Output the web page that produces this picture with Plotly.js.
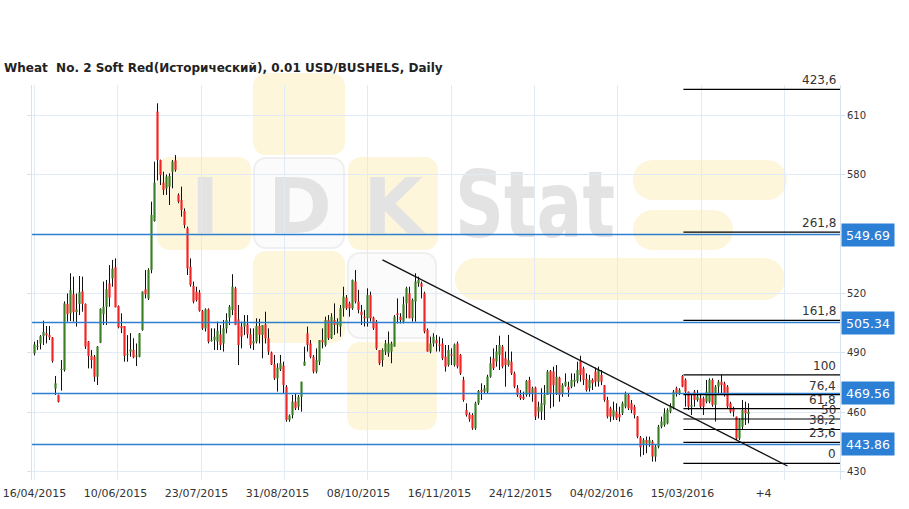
<!DOCTYPE html>
<html><head><meta charset="utf-8">
<script src="https://cdn.plot.ly/plotly-3.0.1.min.js"></script>
<style>html,body{margin:0;padding:0;background:#fff}#chart{width:909px;height:509px}</style>
</head><body><div id="chart"></div>
<script>
// ---- data ----
const openP = [489.8,493,494.8,498.5,499.9,499,497.9,472,468.8,481.4,
481.4,514.7,510,519.6,510.6,514.7,521.1,514.7,495.7,488.6,
488.1,478,495.2,509.6,513.3,525.1,527.6,533.2,513.7,503.6,
503.6,489,490.7,491.5,488.1,488.1,501.6,522.1,517.5,531.8,
556.6,611.7,587.3,575.9,573,573.9,581.4,587.1,569.7,567.1,
561.6,552.9,533.4,523.8,520.9,520.4,511.2,502.4,512,496,
496.6,495.7,499.4,494.8,502.4,507.8,511.7,522.6,506.9,503.3,
503.3,504.4,499.4,494.8,495.7,503.6,499.1,504.4,497.4,490.2,
484.3,477.2,481.7,483.6,473,456.2,458.7,465.5,462.9,467.9,
483.6,499.9,494.8,488.1,480.6,485.6,496.5,494,506.6,497.4,
506.6,504.1,503.3,512.5,517.9,515,512.5,526,515.9,510.8,
508.3,507.5,519.2,507.8,505.8,491.5,486.4,490.7,489.8,490.7,
493.2,510,508.3,505.8,515,520.1,507.5,515.9,525.1,525.1,
520.1,501.6,490.7,494.8,496.5,494.3,494.8,488.1,483.9,489.3,
483.9,494.8,489,476.4,461.2,459,458.7,452,464.6,471.3,
470.5,470.5,478,487.3,485.6,489,493.2,487.3,483.9,485.6,
479.7,472.2,468.8,467.9,468.8,476.4,469.6,472.5,460.4,460.4,
463.8,468.8,480.9,480.6,469.6,477.5,469.6,473.5,473,473,
475.5,475.9,485.9,482.2,476.9,472.2,476.4,480.6,475.5,478.9,
473.8,466.3,462.1,457.9,460.4,459.2,459.6,462.9,468.8,464.6,
462.9,457.9,447.4,443.6,446.1,444.4,445.3,437.7,442.7,452.8,
453.7,454.5,460.4,462.1,472.2,469.6,478.4,476.4,470.5,462.9,
470.5,466.3,467.1,467.1,465.4,465.4,476.4,463.8,473,475.5,
474.7,473,464.6,462.1,457.9,446.9,452.8,461.2,459.2];
const highP = [495.7,496.5,499,506.3,503.6,503.6,498,478.4,469,486.4,
516,520,530.2,528.5,520,528.8,528.5,515,496,491.5,
489,493.5,512.5,526,526.8,534.3,536.9,537.7,514,510,
503.6,499,500,497.4,494.8,500,521,531.8,532.7,566.3,
586.5,615.9,587.5,581.4,580,580.6,587.3,589.8,570.5,573.9,
562.9,553.7,537.7,526,523.4,521.8,511.7,512.5,512.5,502.4,
502.4,505.8,504.1,506.6,510,514.2,529.7,523.4,514.2,505.8,
509.1,509.1,502.4,502.4,507.5,507.2,504.1,510.8,502.4,490.7,
489,484.8,489,485.6,473.8,459,468.8,469.6,468.8,475.5,
493.2,503.3,496.5,489,492.3,496.5,502.4,508.3,509.1,510,
515,507.5,514.2,523.4,519.2,515.9,527,531.8,521.8,514.2,
511.7,522.6,520.9,508.3,506.6,491.5,492.3,496.5,500.8,495.7,
509.1,517.5,510,518.4,523.4,523.4,517.5,530.2,528.5,526,
520.9,502.4,498.2,499.9,499.1,498.2,497.4,494,494,492.3,
494.8,495.7,489.5,478,464.6,460,459.6,465.4,471.3,474.7,
473.8,479,488.1,492.3,494,498.7,494,490.7,499.1,490.7,
480.6,473.8,471.3,470.5,476.4,478,473,473,465.4,472.2,
473.8,481.4,481.4,483.1,483.9,478,474.7,479.7,475.5,479.7,
479.7,485.6,488.6,483.1,479.7,478.9,477.2,482.6,483.1,481.4,
473.8,467.9,462.9,465.4,464.6,462.9,465.5,470.5,469.6,466.3,
463.8,458.2,448.1,447,447.8,447.8,446.1,443.6,453.7,457.9,
462.1,462.1,464.6,471.3,473,472.2,478.9,477.2,470.5,469.6,
471.3,471.3,468.8,468,476.4,477.2,477.2,473.8,476.4,478.9,
475.5,473.8,465.4,462.9,457.9,457,466.3,465.4,464.6];
const lowP = [488.8,491.5,491.8,494,494.8,496.5,485.1,468.8,465,471,
480.6,505.8,506.1,505.8,503.3,509.1,510.8,492,482.2,482.2,
475.5,473.8,495,504.1,504.1,513.3,523.4,513,502.4,500,
485.6,485.6,488.1,487.3,483.4,487.8,501.2,517.5,516.7,530.2,
556.2,577,574.7,569.7,569.7,564.6,573,581.4,565.5,558.7,
552.9,529.3,523.4,515,515.9,510.8,501.6,500.8,494.8,495.7,
491.5,491.5,491.5,490.7,499.9,504.1,509.1,504,483.9,492.3,
499,497.4,492.3,491.5,494.8,494.8,487.3,494.8,489,483.9,
476.4,470.5,480.9,469.6,455.3,455.3,457,461.2,461.2,460.4,
483.6,490.7,487.3,479.7,479.7,483.9,492.3,493.2,496.5,497,
499.1,499.9,498.2,508.3,511.7,508.3,511.7,515,510,504.1,
503.3,503.3,505.8,501.6,491.5,483.9,483.1,489,488.1,484.8,
493.2,504.9,504.9,504.9,507.5,507.5,505.8,505.8,523.4,517.5,
499.9,490.7,489.8,493.2,490.7,490.7,486.4,480.6,483.1,483.9,
483.1,482.2,478.9,465.4,457.9,455.3,451.2,451.2,463.8,466.3,
469.6,469.6,477.5,481.4,483.1,481.4,482.2,473,483.1,478.9,
472.2,467.9,466.3,466.3,467.9,467.9,465.4,456.2,457,456.2,
456.2,468.8,462.1,462.9,468.8,465.4,467.9,473,467.9,472.2,
473,474.7,475.5,473.8,470.5,470.5,471.3,473,473,473.8,
465.4,457,455.3,456.2,456.2,455.4,458.7,462.1,461.2,459.6,
457,447,437.7,438.5,439.4,442.7,435.2,435.2,441.9,452,
452.8,454,459.6,461.6,468,468.8,472.7,462.9,461.2,458.7,
462.9,465.4,462.1,458.7,464.6,464.6,462.9,455.4,469.6,469.6,
468,462.1,459.6,457.9,446.1,446.1,451.2,453.7,454.5];
const closeP = [494.3,493.5,498.5,500.6,498.9,497.9,485.9,474.7,465.3,481.8,
515,509.6,521.7,510.6,512,520.7,514.7,493.2,488.5,486.4,
478,493.2,512.3,513.3,522.1,517.9,532.5,513,502.9,502.4,
488.5,489.2,491.8,487.8,488.5,499.9,520.9,519.6,531.8,559.6,
575.9,587.3,579.7,572.2,578.9,579.2,586.5,582.3,566.3,562.1,
554.5,532.7,524.3,515.9,516.7,511.2,502.4,512,495.7,496.2,
498.2,501.2,494,502.4,506.6,513.3,523.4,504.1,494,498.2,
505.8,499.4,494,496,503.6,499.1,504.1,497.4,490.7,484.3,
477.2,482.6,484.8,473.8,456.2,458.4,465.5,462.1,467.9,475.5,
485.6,494,488.1,480.6,486.4,496.5,495.4,506.6,497.4,508.3,
504.1,505.8,512.5,518.4,512.5,512.5,526.8,515.9,511.7,509.1,
507.5,519.2,507.5,502.4,492.3,484.8,491.5,494.8,494.8,494.8,
508.3,509.1,506.6,514.5,522.6,507.5,516.7,526,526.8,523.4,
500.8,490.7,494.8,498.2,494.8,493.6,487.3,483.1,491.5,488.6,
494.3,483.1,479.7,466.3,458.7,456.6,452,464.6,470.8,470.5,
472.2,478,484.8,482.2,490.7,494,483.1,483.9,486.4,479.7,
473,468.8,467.1,466.8,475.9,469.6,472.2,457.9,462.9,464.6,
468.8,480.6,469.6,473.8,478,468.8,473.8,475.5,471.3,476.4,
476.4,481.4,478.9,476.4,471.3,476.4,474.7,475.5,481.4,475.5,
466.3,457.9,457.9,461.2,457,457.5,464.6,469.6,462.1,461.2,
458.7,447.8,442.4,446.1,444.4,446.1,437.7,442.7,452.8,455.4,
459.6,461.2,462.9,470.5,469.6,471.3,473,470.5,462.9,463.8,
466.3,468,462.9,462.9,470.5,476.4,463.8,473,475.5,473.8,
469.6,462.9,460.4,460.4,446.9,456.2,461.2,459.6,460.4];

const dateLabels = ['16/04/2015','10/06/2015','23/07/2015','31/08/2015','08/10/2015','16/11/2015','24/12/2015','04/02/2016','15/03/2016','+4'];
const dateLabelIdx = [0,27,54,81,108,135,162,189,216,243];
const yTicks = [430,460,490,520,580,610];
const fibLevels = [434.3,444.9,451.4,456.7,461.9,469.0,478.9,506.4,550.9,622.9];
const fibLabels = ['0','23,6','38,2','50','61,8','76,4','100','161,8','261,8','423,6'];
const fibStartIdx = 216.3;
const priceLevels = [549.69,505.34,469.56,443.86];
const priceLabels = ['549.69','505.34','469.56','443.86'];
const trendIdx = [116,251];
const trendVal = [536.9,433.0];

// ---- build traces ----
const xRange = [-0.8333, 268.5];
const yRange = [425.93, 625.13];
const idx = openP.map((_, i) => i);
const wx = [], wy = [];
idx.forEach(i => { wx.push(i, i, null); wy.push(lowP[i], highP[i], null); });
const bodyBase = idx.map(i => Math.min(openP[i], closeP[i]));
const bodyLen = idx.map(i => Math.max(Math.abs(closeP[i] - openP[i]), 0.6));
const bodyColor = idx.map(i => closeP[i] >= openP[i] ? '#3a7f22' : '#f42222');

const wicks = {type:'scatter', mode:'lines', x:wx, y:wy, xaxis:'x', yaxis:'y',
  line:{color:'#111', width:1}, hoverinfo:'skip', showlegend:false};
const bodies = {type:'bar', x:idx, y:bodyLen, base:bodyBase, width:0.72, xaxis:'x2', yaxis:'y',
  marker:{color:bodyColor, line:{width:0}}, hoverinfo:'skip', showlegend:false};

// ---- watermark (decorative logo) as an SVG image below the plot ----
const wm = `<svg xmlns='http://www.w3.org/2000/svg' width='909' height='509' viewBox='0 0 909 509'>
<g fill='#fdf6da'>
<rect x='253' y='73' width='92' height='82' rx='13'/>
<rect x='157' y='157' width='94' height='93' rx='13'/>
<rect x='348' y='157' width='90' height='93' rx='13'/>
<rect x='253' y='251' width='92' height='92' rx='13'/>
<rect x='347' y='342' width='90' height='88' rx='13'/>
<rect x='455' y='258' width='330' height='42' rx='21'/>
<rect x='633' y='160' width='154' height='40' rx='20'/>
<rect x='633' y='210' width='100' height='40' rx='20'/>
</g>
<g fill='#fbfbfb' stroke='#efefef' stroke-width='2'>
<rect x='254' y='158' width='90' height='90' rx='12'/>
<rect x='348' y='253' width='88' height='85' rx='12'/>
</g>
<g fill='#e3e3e3' font-family='DejaVu Sans' font-weight='bold'>
<text x='205' y='233' font-size='77' text-anchor='middle'>I</text>
<text x='300' y='233' font-size='77' text-anchor='middle'>D</text>
<text x='393' y='233' font-size='77' text-anchor='middle'>K</text>
<text x='455' y='237' font-size='92' textLength='160' lengthAdjust='spacingAndGlyphs'>Stat</text>
</g></svg>`;
const wmSrc = 'data:image/svg+xml;charset=utf-8,' + encodeURIComponent(wm);

const L = 32, R = 840, T = 85, B = 480;
const pw = R - L, ph = B - T;

const shapes = [];
priceLevels.forEach(v => shapes.push({type:'line', xref:'paper', yref:'y', x0:0, x1:1, y0:v, y1:v,
  line:{color:'#2f7fd0', width:1.5}}));
fibLevels.forEach(v => shapes.push({type:'line', xref:'x', yref:'y', x0:fibStartIdx, x1:xRange[1], y0:v, y1:v,
  line:{color:'#000', width:1.2}}));
shapes.push({type:'line', xref:'x', yref:'y', x0:trendIdx[0], y0:trendVal[0], x1:trendIdx[1], y1:trendVal[1],
  line:{color:'#111', width:1.3}});

const annotations = [];
fibLevels.forEach((v, k) => annotations.push({xref:'paper', yref:'y', x:1, y:v, xanchor:'right', yanchor:'bottom',
  xshift:-2, yshift:0, text:fibLabels[k], showarrow:false, font:{family:'DejaVu Sans', size:12, color:'#333'}}));
priceLevels.forEach((v, k) => annotations.push({xref:'paper', yref:'y', x:1, y:v, xanchor:'left', yanchor:'middle',
  xshift:1, text:priceLabels[k], showarrow:false, bgcolor:'#2b7fd5', borderpad:2, width:48, height:18,
  font:{family:'DejaVu Sans', size:12.5, color:'#fff'}}));

const layout = {
  width:909, height:509,
  margin:{l:L, r:909-R, t:T, b:509-B, pad:0},
  paper_bgcolor:'#fff', plot_bgcolor:'rgba(0,0,0,0)',
  showlegend:false,
  title:{text:'<b>Wheat&nbsp; No. 2 Soft Red(Исторический), 0.01 USD/BUSHELS, Daily</b>',
    xref:'container', yref:'container', x:4/909, xanchor:'left', y:1-68/509, yanchor:'middle',
    font:{family:'DejaVu Sans', size:12, color:'#222'}},
  xaxis:{range:xRange, tickmode:'linear', tick0:0, dtick:250/9, showgrid:true, gridcolor:'#e2ebf5',
    showticklabels:false, ticks:'', zeroline:false, showline:false, fixedrange:true},
  xaxis2:{range:xRange, overlaying:'x', side:'bottom', tickmode:'array', tickvals:dateLabelIdx, ticktext:dateLabels,
    showgrid:false, zeroline:false, showline:false, ticks:'outside', ticklen:3, tickcolor:'rgba(0,0,0,0)',
    tickfont:{family:'DejaVu Sans', size:11, color:'#333'}, fixedrange:true},
  yaxis:{range:yRange, side:'right', tickmode:'array', tickvals:yTicks, showgrid:true, gridcolor:'#e2ebf5',
    zeroline:false, showline:true, linecolor:'#d6e2ee', mirror:'ticks', ticks:'outside', ticklen:4,
    tickcolor:'#d6e2ee', tickfont:{family:'DejaVu Sans', size:10, color:'#333'}, fixedrange:true},
  images:[{source:wmSrc, xref:'paper', yref:'paper', x:-L/pw, y:B/ph, sizex:909/pw, sizey:509/ph,
    xanchor:'left', yanchor:'top', sizing:'stretch', layer:'below'}],
  shapes:shapes,
  annotations:annotations
};

Plotly.newPlot('chart', [wicks, bodies], layout, {displayModeBar:false, staticPlot:true});
</script></body></html>
